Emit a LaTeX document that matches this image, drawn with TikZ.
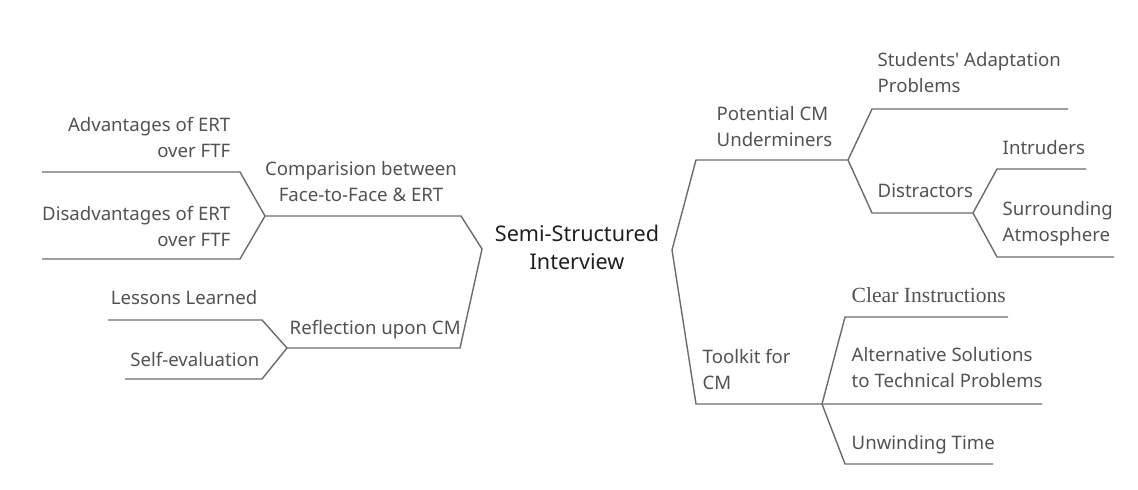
\documentclass[tikz,border=0pt]{standalone}
\usepackage{fontspec}
\setmainfont{Noto Sans}
\newfontfamily\clearfont{Liberation Serif}
\usepackage{tikz}

\begin{document}
\begin{tikzpicture}[x=0.5pt,y=-0.5pt,line width=0.7pt,
  branch/.style={draw=black!58,line join=miter},
  lbl/.style={text=black!68,inner sep=0pt,font=\fontsize{9.3}{13.2}\selectfont},
  rootlbl/.style={text=black!88,inner sep=0pt,align=center,font=\fontsize{10.8}{14}\selectfont}]

\useasboundingbox (0,0) rectangle (1138,490);

\coordinate (hubL) at (482,249);
\coordinate (hubR) at (672,250);

\coordinate (cmpA) at (265,216);
\coordinate (cmpB) at (461,216);
\coordinate (advA) at (42,172);
\coordinate (advB) at (240,172);
\coordinate (disA) at (42,259);
\coordinate (disB) at (240,259);
\coordinate (reflA) at (287,348);
\coordinate (reflB) at (460,348);
\coordinate (lesA) at (108,320);
\coordinate (lesB) at (262,320);
\coordinate (selfA) at (125,379);
\coordinate (selfB) at (262,379);

\coordinate (undA) at (696,160);
\coordinate (undB) at (848,160);
\coordinate (stuA) at (872,109);
\coordinate (stuB) at (1068,109);
\coordinate (disrA) at (872,213);
\coordinate (disrB) at (973,213);
\coordinate (intA) at (997,169);
\coordinate (intB) at (1086,169);
\coordinate (surA) at (997,257);
\coordinate (surB) at (1114,257);
\coordinate (tooA) at (696,404);
\coordinate (tooB) at (822,404);
\coordinate (altB) at (1042,404);
\coordinate (clrA) at (845,317);
\coordinate (clrB) at (1008,317);
\coordinate (unwA) at (845,464);
\coordinate (unwB) at (993,464);

\draw[branch] (advA)--(advB)--(cmpA)--(cmpB)--(hubL)--(reflB)--(reflA)--(lesB)--(lesA);
\draw[branch] (disA)--(disB)--(cmpA);
\draw[branch] (selfA)--(selfB)--(reflA);

\draw[branch] (stuB)--(stuA)--(undB)--(undA)--(hubR)--(tooA)--(altB);
\draw[branch] (undB)--(disrA)--(disrB)--(intA)--(intB);
\draw[branch] (disrB)--(surA)--(surB);
\draw[branch] (tooB)--(clrA)--(clrB);
\draw[branch] (tooB)--(unwA)--(unwB);

\node[rootlbl,anchor=base] (root) at (577,270) {Semi-Structured\\Interview};

\node[lbl,anchor=base east,align=right] (adv) at (231,158) {Advantages of ERT\\over FTF};
\node[lbl,anchor=base east,align=right] (dis) at (231,247) {Disadvantages of ERT\\over FTF};
\node[lbl,anchor=base,align=center] (cmp) at (361,202) {Comparision between\\Face-to-Face \& ERT};
\node[lbl,anchor=base east] (lessons) at (258,305) {Lessons Learned};
\node[lbl,anchor=base east] (selfev) at (260,367) {Self-evaluation};
\node[lbl,anchor=base west] (refl) at (289,335) {Reflection upon CM};

\node[lbl,anchor=base west,align=left] (undermine) at (716,147) {Potential CM\\Underminers};
\node[lbl,anchor=base west,align=left] (students) at (877,93) {Students\textquotesingle\ Adaptation\\Problems};
\node[lbl,anchor=base west] (distr) at (877,198) {Distractors};
\node[lbl,anchor=base west] (intr) at (1002,155) {Intruders};
\node[lbl,anchor=base west,align=left] (surr) at (1002,242) {Surrounding\\Atmosphere};
\node[lbl,anchor=base west,align=left] (toolkit) at (702,390) {Toolkit for\\CM};
\node[lbl,anchor=base west,font=\clearfont\fontsize{10.8}{13}\selectfont] (clear) at (851,303) {Clear Instructions};
\node[lbl,anchor=base west,align=left] (altsol) at (851,388) {Alternative Solutions\\to Technical Problems};
\node[lbl,anchor=base west] (unwind) at (851,450) {Unwinding Time};

\end{tikzpicture}
\end{document}
